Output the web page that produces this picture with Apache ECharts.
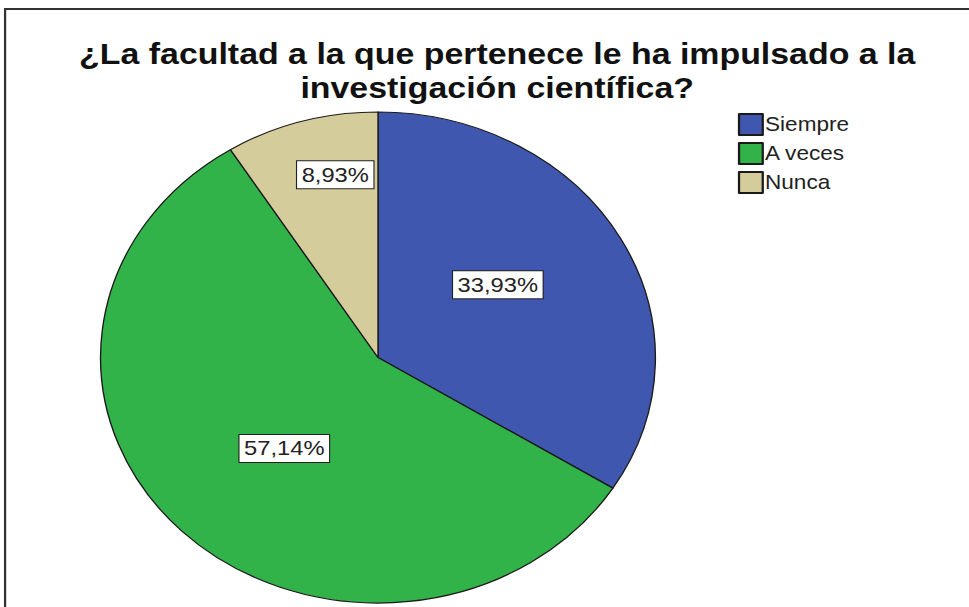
<!DOCTYPE html>
<html>
<head>
<meta charset="utf-8">
<script src="https://cdn.jsdelivr.net/npm/echarts@6/dist/echarts.min.js"></script>
<style>
  html, body { margin: 0; padding: 0; background: #fff; overflow: hidden; }
  /* the original output is stretched sideways, so the pie is an ellipse */
  #chart { width: 858px; height: 607px; transform: scaleX(1.13); transform-origin: 0 0; }
</style>
</head>
<body>
<div id="chart"></div>
<script>
const titleText = "¿La facultad a la que pertenece le ha impulsado a la\ninvestigación científica?";
const categories = ["Siempre", "A veces", "Nunca"];
const percents = [33.93, 57.14, 8.93];
const colors = ["#3F57AE", "#31B34A", "#D5CC9B"];

// small nudges so the boxes sit where SPSS put them
const labelShift = [[-4, -12], [6, 2], [-3, -62]];

const chart = echarts.init(document.getElementById("chart"), null, { renderer: "svg" });

chart.setOption({
  backgroundColor: "#fff",
  animation: false,
  color: colors,
  title: {
    text: titleText,
    left: 440,
    top: 37,
    padding: 0,
    textAlign: "center",
    textStyle: {
      fontFamily: "Liberation Sans, Arial, sans-serif",
      fontSize: 30,
      fontWeight: "bold",
      lineHeight: 34,
      color: "#111"
    }
  },
  legend: {
    orient: "vertical",
    left: 653,
    top: 113,
    padding: 0,
    itemWidth: 21,
    itemHeight: 21,
    itemGap: 6,
    icon: "rect",
    selectedMode: false,
    data: categories,
    textStyle: {
      fontFamily: "Liberation Sans, Arial, sans-serif",
      fontSize: 20,
      lineHeight: 20,
      color: "#222",
      padding: [0, 0, 0, -3]
    }
  },
  graphic: [
    {
      type: "rect",
      shape: { x: 4.5, y: 9, width: 900, height: 700 },
      style: { fill: "none", stroke: "#333", lineWidth: 2 },
      silent: true
    }
  ],
  series: [
    {
      type: "pie",
      center: [334.5, 357.5],
      radius: 245.5,
      startAngle: 90,
      clockwise: true,
      silent: true,
      itemStyle: { borderColor: "#1a1a1a", borderWidth: 1.2 },
      label: {
        position: "inside",
        formatter: function (p) {
          return p.value.toFixed(2).replace(".", ",") + "%";
        },
        fontFamily: "Liberation Sans, Arial, sans-serif",
        fontSize: 21,
        lineHeight: 22,
        color: "#222",
        backgroundColor: "#fff",
        borderColor: "#222",
        borderWidth: 1,
        padding: [3, 4, 2, 4]
      },
      labelLine: { show: false },
      labelLayout: function (p) {
        const s = labelShift[p.dataIndex];
        return { dx: s[0], dy: s[1] };
      },
      data: categories.map(function (name, i) {
        return { name: name, value: percents[i] };
      })
    }
  ]
});
</script>
</body>
</html>
